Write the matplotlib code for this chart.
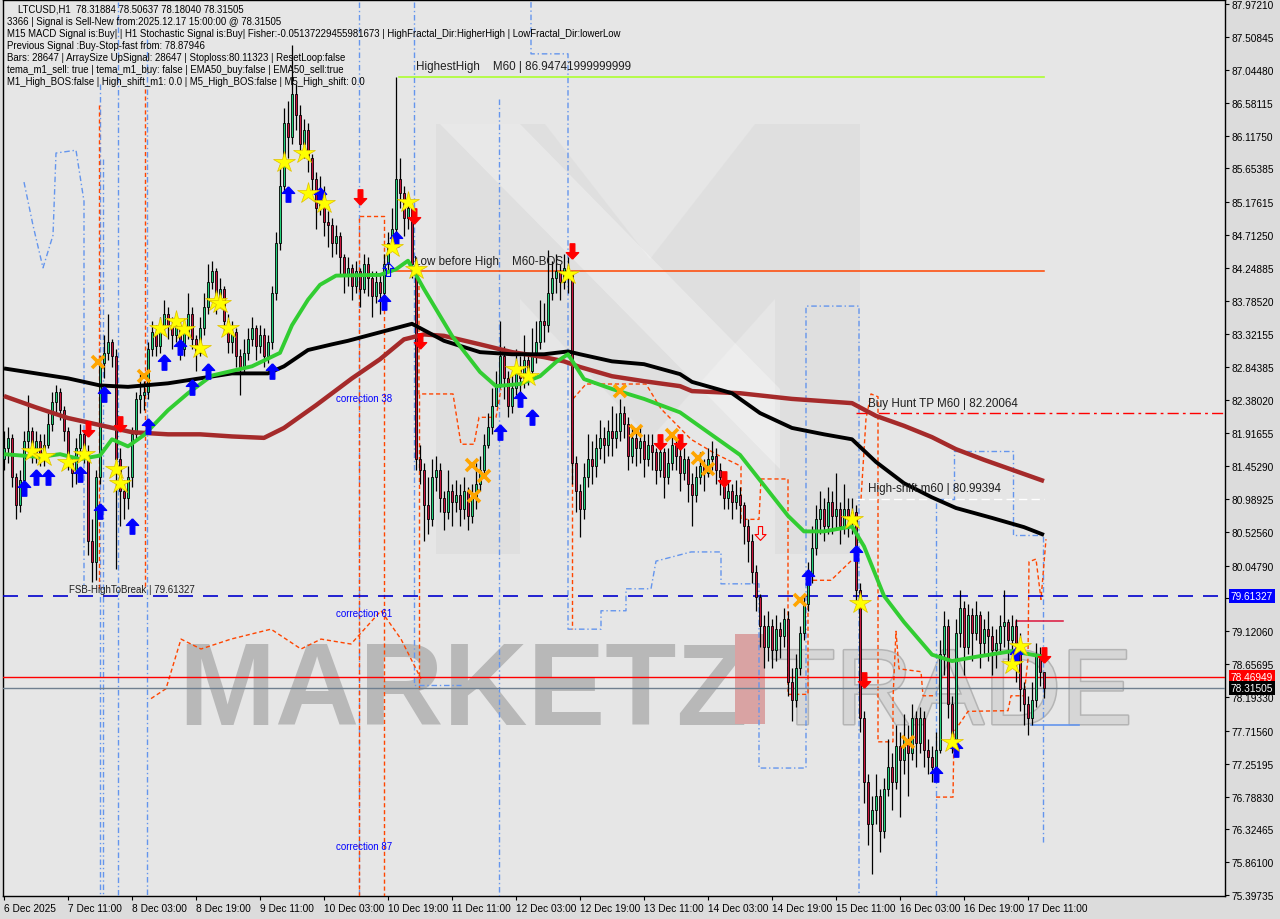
import numpy as np
import matplotlib.pyplot as plt
import matplotlib.transforms as mtransforms
import matplotlib.patheffects as pe
from matplotlib.patches import Rectangle, Polygon

plt.rcParams['font.family'] = ['Liberation Sans', 'DejaVu Sans']

# hourly bars, bar 0 = 6 Dec 2025 19:00
first_open = 81.55
close = [
    81.70, 81.85, 81.30, 80.90, 81.25, 81.80, 81.95, 81.65, 81.80, 81.60,
    81.75, 82.05, 82.35, 82.50, 82.25, 81.95, 81.50, 81.35, 81.70, 81.90,
    81.65, 80.40, 80.10, 81.30, 82.90, 83.05, 83.20, 83.00, 81.55, 81.10,
    81.00, 81.30, 81.90, 82.40, 82.45, 82.50, 83.10, 83.35, 83.15, 83.40,
    83.60, 83.45, 83.30, 83.45, 83.10, 83.35, 83.60, 83.25, 83.05, 83.40,
    83.70, 84.05, 84.20, 83.80, 83.95, 83.50, 83.20, 83.35, 83.00, 82.85,
    83.05, 83.25, 83.40, 83.15, 83.30, 83.00, 83.20, 83.90, 84.60, 85.40,
    86.30, 86.10, 86.70, 86.40, 86.00, 86.20, 85.80, 85.50, 85.10, 85.30,
    84.90, 84.85, 84.60, 84.70, 84.40, 84.15, 84.25, 84.00, 84.20, 83.95,
    84.30, 84.10, 83.85, 84.05, 83.90, 84.30, 84.60, 84.80, 85.50, 85.30,
    84.95, 85.10, 84.30, 81.55, 81.40, 80.90, 80.70, 81.30, 81.40, 81.00,
    80.80, 81.10, 80.95, 81.05, 80.85, 81.10, 80.75, 81.00, 81.20, 81.40,
    81.75, 82.00, 82.30, 82.60, 83.00, 82.70, 82.30, 82.55, 82.85, 82.70,
    82.95, 82.80, 83.05, 83.20, 83.50, 83.45, 83.90, 84.10, 84.20, 84.05,
    84.25, 84.15, 81.50, 81.10, 80.85, 81.30, 81.55, 81.45, 81.70, 81.85,
    81.75, 81.95, 81.85, 81.95, 82.20, 82.05, 81.60, 81.85, 81.70, 81.80,
    81.55, 81.75, 81.65, 81.40, 81.65, 81.30, 81.50, 81.75, 81.60, 81.35,
    81.55, 81.20, 81.05, 81.30, 81.45, 81.35, 81.55, 81.60, 81.40, 81.30,
    81.00, 81.10, 80.95, 81.05, 80.90, 80.60, 80.40, 79.95, 79.60, 79.20,
    78.90, 79.20, 78.85, 79.15, 79.05, 79.30, 78.40, 78.15, 78.60, 79.10,
    79.50, 79.90, 80.30, 80.70, 80.85, 80.60, 80.95, 80.75, 80.85, 80.60,
    80.85, 80.70, 80.80, 79.70, 77.90, 77.00, 76.40, 76.60, 76.80, 76.30,
    76.90, 77.20, 77.00, 77.50, 77.30, 77.60, 77.40, 77.90, 77.55, 77.90,
    77.45, 77.35, 77.20, 77.45, 78.80, 79.20, 78.10, 77.60, 79.10, 79.45,
    78.90, 79.35, 79.10, 79.35, 78.95, 79.15, 79.05, 78.85, 78.95, 79.20,
    79.25, 79.00, 79.20, 78.95, 78.30, 78.10, 77.90, 78.15, 78.80, 78.55,
    78.315,
]
high = [
    81.95, 82.00, 81.90, 81.35, 81.40, 81.95, 82.45, 82.00, 81.95, 81.90,
    81.90, 82.20, 82.50, 82.60, 82.55, 82.30, 82.00, 81.60, 81.85, 82.05,
    81.95, 81.75, 80.70, 81.40, 83.00, 83.30, 83.60, 83.25, 83.10, 81.70,
    81.25, 81.45, 82.00, 82.50, 82.75, 82.65, 83.20, 83.50, 83.45, 83.55,
    83.80, 83.70, 83.55, 83.60, 83.50, 83.50, 83.90, 83.70, 83.30, 83.55,
    83.90, 84.30, 84.35, 84.25, 84.10, 84.00, 83.60, 83.50, 83.40, 83.10,
    83.25, 83.40, 83.55, 83.45, 83.45, 83.40, 83.30, 84.00, 84.75, 85.70,
    86.50, 86.60, 87.40, 86.85, 86.55, 86.35, 86.30, 85.85, 85.60, 85.55,
    85.40, 85.05, 84.95, 84.85, 84.75, 84.45, 84.40, 84.30, 84.35, 84.25,
    84.45, 84.40, 84.20, 84.20, 84.15, 84.45, 84.75, 85.10, 86.95, 85.80,
    85.40, 85.25, 85.15, 84.40, 81.75, 81.50, 81.30, 81.55, 81.60, 81.50,
    81.10, 81.40, 81.20, 81.25, 81.20, 81.30, 81.15, 81.20, 81.50, 81.60,
    81.90, 82.20, 82.55, 82.80, 83.50, 83.15, 82.80, 82.80, 83.10, 83.00,
    83.30, 83.05, 83.40, 83.50, 83.80, 83.75, 84.50, 84.35, 84.45, 84.30,
    84.45, 84.40, 84.20, 81.60, 81.20, 81.50, 81.90, 81.80, 81.90, 82.10,
    82.00, 82.10, 82.30, 82.20, 82.40, 82.30, 82.15, 82.00, 81.95, 82.00,
    81.90, 81.90, 81.90, 81.70, 81.80, 81.70, 81.70, 81.90, 81.85, 81.70,
    81.70, 81.60, 81.35, 81.45, 81.65, 81.55, 81.70, 81.80, 81.70, 81.50,
    81.35, 81.25, 81.20, 81.25, 81.15, 80.95, 80.70, 80.50, 80.05, 79.65,
    79.35, 79.40, 79.30, 79.35, 79.25, 79.45, 79.40, 78.60, 78.80, 79.20,
    79.65, 80.10, 80.60, 80.90, 81.10, 81.00, 81.15, 81.10, 81.35, 80.95,
    81.20, 81.00, 81.00, 80.90, 79.80, 78.00, 77.10, 76.80, 77.10, 76.90,
    77.05, 77.60, 77.40, 77.80, 77.70, 77.95, 77.80, 78.10, 78.00, 78.05,
    78.00, 77.60, 77.50, 77.70, 79.00, 79.40, 79.30, 78.20, 79.30, 79.70,
    79.55, 79.50, 79.45, 79.55, 79.40, 79.30, 79.40, 79.20, 79.15, 79.35,
    79.70, 79.30, 79.35, 79.30, 79.10, 78.40, 78.20, 78.40, 78.95, 78.90,
    78.51,
]
low = [
    81.40, 81.50, 81.15, 80.70, 80.80, 81.15, 81.65, 81.50, 81.50, 81.45,
    81.45, 81.70, 81.95, 82.20, 82.10, 81.80, 81.40, 81.15, 81.20, 81.55,
    81.50, 80.20, 79.82, 79.85, 81.20, 82.70, 82.95, 82.85, 80.00, 80.60,
    80.70, 80.85, 81.15, 81.80, 82.20, 82.25, 82.40, 83.00, 83.00, 83.05,
    83.30, 83.25, 83.10, 83.20, 82.95, 83.00, 83.25, 83.10, 82.80, 83.00,
    83.30, 83.60, 83.95, 83.60, 83.70, 83.35, 83.05, 83.05, 82.85, 82.45,
    82.75, 82.95, 83.15, 82.95, 83.05, 82.85, 82.90, 83.10, 83.80, 84.50,
    85.30, 85.80, 86.00, 86.20, 85.80, 85.80, 85.60, 85.30, 84.80, 85.00,
    84.70, 84.55, 84.40, 84.45, 84.15, 83.90, 84.00, 83.80, 83.90, 83.70,
    83.90, 83.85, 83.55, 83.75, 83.60, 83.80, 84.20, 84.50, 84.70, 85.10,
    84.70, 84.80, 84.10, 81.40, 81.20, 80.40, 80.50, 80.60, 81.10, 80.80,
    80.55, 80.70, 80.60, 80.80, 80.60, 80.70, 80.55, 80.65, 80.85, 81.10,
    81.30, 81.70, 81.90, 82.30, 82.55, 82.40, 82.15, 82.20, 82.45, 82.50,
    82.55, 82.60, 82.70, 82.90, 83.10, 83.20, 83.35, 83.80, 83.90, 83.80,
    83.95, 83.90, 81.20, 80.80, 80.45, 80.70, 81.15, 81.20, 81.30, 81.55,
    81.50, 81.60, 81.60, 81.70, 81.80, 81.85, 81.40, 81.50, 81.45, 81.50,
    81.30, 81.45, 81.40, 81.20, 81.30, 81.00, 81.20, 81.40, 81.40, 81.10,
    81.25, 80.95, 80.60, 80.95, 81.20, 81.10, 81.30, 81.40, 81.20, 81.05,
    80.85, 80.85, 80.70, 80.85, 80.65, 80.35, 80.10, 79.80, 79.40, 78.90,
    78.60, 78.70, 78.60, 78.70, 78.75, 78.90, 78.20, 77.85, 78.05, 78.50,
    79.00, 79.40, 79.80, 80.20, 80.50, 80.40, 80.50, 80.50, 80.55, 80.35,
    80.50, 80.45, 80.50, 79.50, 77.70, 76.70, 76.10, 75.70, 76.40, 76.00,
    76.20, 76.80, 76.60, 76.90, 76.50, 77.10, 76.80, 77.30, 77.20, 77.40,
    77.20, 77.10, 77.00, 77.10, 77.40, 78.50, 77.90, 77.40, 77.50, 78.90,
    78.50, 78.80, 78.70, 79.00, 78.60, 78.80, 78.70, 78.50, 78.60, 78.80,
    78.90, 78.70, 78.85, 78.40, 78.00, 77.80, 77.65, 77.80, 78.05, 78.35,
    78.18,
]

# moving averages at sample bars
green_bar = [0, 9, 14, 19, 24, 27, 31, 35, 41, 46, 52, 62, 69, 72, 76, 79, 83, 94, 98, 101,
             105, 112, 119, 123, 129, 134, 138, 141, 145, 152, 160, 169, 177, 184, 190, 196,
             200, 205, 212, 215, 220, 225, 232, 237, 243, 252, 260]
green_val = [81.62, 81.58, 81.62, 81.55, 81.60, 81.83, 81.73, 81.89, 82.24, 82.48, 82.73,
             82.86, 83.05, 83.44, 83.80, 84.01, 84.14, 84.15, 84.23, 84.35, 83.95, 83.29,
             82.78, 82.58, 82.61, 82.72, 82.92, 83.03, 82.68, 82.54, 82.40, 82.21, 81.89,
             81.61, 81.18, 80.75, 80.53, 80.53, 80.60, 80.32, 79.62, 79.25, 78.79, 78.70,
             78.76, 78.84, 78.76]
black_bar = [0, 8, 16, 24, 31, 41, 49, 57, 66, 70, 76, 82, 86, 94, 102, 110, 119, 127, 135,
             141, 144, 152, 160, 169, 172, 182, 189, 197, 205, 212, 218, 225, 232, 238, 247,
             255, 260]
black_val = [82.83, 82.76, 82.69, 82.59, 82.57, 82.62, 82.69, 82.76, 82.76, 82.86, 83.09,
             83.17, 83.22, 83.34, 83.46, 83.22, 83.06, 83.03, 83.03, 83.07, 83.03, 82.93,
             82.89, 82.75, 82.64, 82.48, 82.20, 81.99, 81.90, 81.83, 81.51, 81.21, 81.01,
             80.86, 80.72, 80.59, 80.48]
brown_bar = [0, 8, 16, 24, 32, 41, 49, 57, 65, 70, 78, 87, 94, 100, 105, 110, 119, 127, 135,
             140, 144, 152, 160, 169, 172, 184, 197, 212, 218, 225, 232, 238, 245, 252, 260]
brown_val = [82.44, 82.28, 82.13, 82.03, 81.93, 81.90, 81.90, 81.87, 81.85, 81.99, 82.31,
             82.69, 82.96, 83.24, 83.31, 83.29, 83.17, 83.06, 82.99, 82.93, 82.85, 82.72,
             82.65, 82.58, 82.51, 82.48, 82.40, 82.34, 82.16, 82.02, 81.86, 81.69, 81.54,
             81.40, 81.24]

# signal markers (bar, price)
star_bar = [7, 10, 16, 20, 28, 29, 39, 43, 45, 49, 53, 54, 56, 70, 75, 76, 80, 97, 101, 103,
            128, 131, 141, 212, 214, 237, 252, 254]
star_price = [81.66, 81.59, 81.51, 81.62, 81.41, 81.21, 83.40, 83.50, 83.39, 83.12, 83.78,
              83.75, 83.40, 85.74, 85.87, 85.31, 85.16, 84.54, 85.18, 84.23, 82.82, 82.72,
              84.16, 80.70, 79.52, 77.56, 78.66, 78.91]
cross_bar = [23.5, 35, 117, 120, 117.5, 154, 158, 167, 173.5, 176, 199, 226]
cross_price = [82.92, 82.72, 81.47, 81.31, 81.03, 82.51, 81.95, 81.89, 81.57, 81.41, 79.56, 77.56]
up_bar = [5, 8, 11, 19, 25, 24, 32, 36, 40, 44, 47, 51, 67, 71, 79, 95, 98, 124, 129, 132,
          201, 213, 233, 238, 253]
up_price = [81.14, 81.30, 81.30, 81.34, 82.47, 80.82, 80.60, 82.02, 82.92, 83.13, 82.57,
            82.79, 82.79, 85.29, 85.28, 83.77, 84.66, 81.93, 82.40, 82.14, 79.88, 80.22,
            77.11, 77.46, 78.79]
down_bar = [21, 29, 89, 102.5, 104, 142, 164, 169, 180, 215, 260]
down_price = [81.97, 82.04, 85.25, 84.98, 83.22, 84.49, 81.79, 81.79, 81.27, 78.43, 78.79]

# levels
highest_high = 86.94742
low_before_high = 84.21
buy_hunt_tp = 82.20064
high_shift = 80.99394
fsb_high = 79.61327
sell_level = 78.46949
bid_price = 78.31505

# dashed channel / fibo outlines (bars, prices)
blue_paths = [
    ([5, 7.25, 9.75, 12.25, 13, 18, 20, 20], [85.46, 84.85, 84.25, 84.71, 85.87, 85.91, 85.19, 79.72]),
    ([24, 24], [86.84, 75.38]),
    ([24.75, 24.75], [85.78, 75.38]),
    ([28.5, 28.5], [88.0, 75.38]),
    ([35.75, 35.75], [87.48, 75.38]),
    ([88.75, 88.75], [88.0, 75.38]),
    ([102.5, 102.5, 114.25], [88.0, 78.36, 78.36]),
    ([123.75, 123.75], [86.63, 75.38]),
    ([131.75, 131.75, 141, 141, 142.25, 149.25, 149.25, 155.5, 155.5, 161.75, 163, 171.75,
      179.25, 179.25, 188.75, 188.75, 200.5, 200.5, 213.75, 213.75],
     [88.0, 87.27, 87.27, 79.15, 79.15, 79.15, 79.41, 79.41, 79.72, 79.72, 80.11, 80.24,
      80.24, 79.79, 79.79, 77.19, 77.19, 83.71, 83.71, 75.38]),
    ([233, 233, 237.5, 237.5, 252.25, 252.25, 259.75, 259.75],
     [75.38, 80.99, 80.99, 81.66, 81.66, 80.48, 80.48, 76.12]),
]
orange_paths = [
    ([23.75, 23.75], [86.55, 79.72]),
    ([35.25, 35.25], [86.77, 79.72]),
    ([88.75, 88.75, 95, 95], [75.38, 84.98, 84.98, 75.38]),
    ([103.75, 103.75, 112.25, 114.25, 117.5, 118.75, 123, 124.25],
     [84.19, 82.47, 82.47, 81.76, 81.76, 82.14, 82.14, 82.54]),
    ([103.75, 103.75], [82.47, 78.31]),
    ([142, 142], [82.5, 79.15]),
    ([142.25, 145.5, 160.5, 164.25, 171.75, 178, 184.25, 184.25, 188.75, 189.25, 196, 196,
      201, 201, 206.75, 212.25],
     [82.40, 82.61, 82.61, 82.26, 81.83, 81.62, 81.45, 80.70, 80.70, 81.27, 81.27, 78.23,
      78.23, 79.84, 79.84, 80.14]),
    ([36.75, 40.5, 44.25, 49.25, 56.75, 66.75, 74.25, 79.25, 86.75, 94.25, 99.25, 104.25],
     [78.17, 78.31, 79.01, 78.87, 79.01, 79.15, 78.87, 79.01, 78.94, 79.41, 79.01, 78.45]),
    ([233, 237.25, 237.5, 241, 251, 251.75, 255, 256, 256.25, 258, 259.25, 260.5],
     [76.78, 76.78, 77.70, 77.99, 78.00, 78.21, 78.21, 78.73, 80.10, 80.14, 79.57, 80.42]),
    ([214.25, 215.5, 216.75, 218.5, 218.5, 222.25, 222.25, 223, 223.75, 229.25, 229.75, 232.5],
     [80.99, 82.12, 82.47, 82.43, 77.56, 77.56, 78.17, 79.12, 78.59, 78.55, 78.21, 78.21]),
]

tick_bars = list(range(0, 257, 16))
tick_labels = ["6 Dec 2025", "7 Dec 11:00", "8 Dec 03:00", "8 Dec 19:00", "9 Dec 11:00",
               "10 Dec 03:00", "10 Dec 19:00", "11 Dec 11:00", "12 Dec 03:00", "12 Dec 19:00",
               "13 Dec 11:00", "14 Dec 03:00", "14 Dec 19:00", "15 Dec 11:00", "16 Dec 03:00",
               "16 Dec 19:00", "17 Dec 11:00"]
price_ticks = [87.97210, 87.50845, 87.04480, 86.58115, 86.11750, 85.65385, 85.17615, 84.71250,
               84.24885, 83.78520, 83.32155, 82.84385, 82.38020, 81.91655, 81.45290, 80.98925,
               80.52560, 80.04790, 79.58425, 79.12060, 78.65695, 78.19330, 77.71560, 77.25195,
               76.78830, 76.32465, 75.86100, 75.39735]
hidden_tick = 79.58425  # covered by the FSB price box

header = [
    "LTCUSD,H1  78.31884 78.50637 78.18040 78.31505",
    "3366 | Signal is Sell-New from:2025.12.17 15:00:00 @ 78.31505",
    "M15 MACD Signal is:Buy| | H1 Stochastic Signal is:Buy| Fisher:-0.05137229455981673 | "
    "HighFractal_Dir:HigherHigh | LowFractal_Dir:lowerLow",
    "Previous Signal :Buy-Stop-fast from: 78.87946",
    "Bars: 28647 | ArraySize UpSignal: 28647 | Stoploss:80.11323 | ResetLoop:false",
    "tema_m1_sell: true | tema_m1_buy: false | EMA50_buy:false | EMA50_sell:true",
    "M1_High_BOS:false | High_shift_m1: 0.0 | M5_High_BOS:false | M5_High_shift: 0.0",
]

W, H = 1280, 920
AX_L, AX_R, AX_T, AX_B = 3, 1225, 1, 897


def px(x, y):
    # pixel position -> axes fraction, only for the decorative watermark
    return ((x - AX_L) / (AX_R - AX_L), (AX_B - y) / (AX_B - AX_T))


def draw_watermark(ax):
    tr = ax.transAxes
    m_shape = [(436, 555), (436, 125), (545, 125), (650, 260), (755, 125), (860, 125),
               (860, 555), (775, 555), (775, 300), (650, 440), (520, 300), (520, 555)]
    ax.add_patch(Polygon([px(*p) for p in m_shape], closed=True, transform=tr,
                         fc='#d2d2d2', ec='none', alpha=0.3, zorder=0.5))
    stripe = [(440, 125), (520, 125), (780, 390), (780, 470)]
    ax.add_patch(Polygon([px(*p) for p in stripe], closed=True, transform=tr,
                         fc='white', ec='none', alpha=0.3, zorder=0.6))
    x0, y0 = px(178, 725)
    ax.text(x0, y0, "MARKETZ", transform=tr, fontsize=84, fontweight='bold',
            color='#b8b8b8', ha='left', va='baseline', zorder=1)
    rx, ry = px(735, 725)
    ax.add_patch(Rectangle((rx, ry), 30 / (AX_R - AX_L), 90 / (AX_B - AX_T), transform=tr,
                           fc='#d9a3a3', ec='none', zorder=1))
    tx, ty = px(770, 725)
    ax.text(tx, ty, "TRADE", transform=tr, fontsize=77, color='#d6d6d6', ha='left',
            va='baseline', zorder=1,
            path_effects=[pe.withStroke(linewidth=2.2, foreground='#b4b4b4')])


def main():
    fig = plt.figure(figsize=(W / 100, H / 100), dpi=100, facecolor='#dcdcdc')
    ax = fig.add_axes([AX_L / W, 1 - AX_B / H, (AX_R - AX_L) / W, (AX_B - AX_T) / H])
    ax.set_facecolor('#e6e6e6')
    ax.set_xlim(-0.25, 305.25)
    ax.set_ylim(75.384, 88.03)
    for s in ax.spines.values():
        s.set_color('black')
        s.set_linewidth(1)

    draw_watermark(ax)

    # candles
    c = np.array(close)
    o = np.concatenate([[first_open], c[:-1]])
    h = np.maximum(np.array(high), np.maximum(o, c))
    l = np.minimum(np.array(low), np.minimum(o, c))
    x = np.arange(len(c))
    bull = c >= o
    lo_body = np.minimum(o, c)
    body = np.maximum(np.abs(c - o), 0.02)
    ax.vlines(x, l, h, color='black', lw=0.9, zorder=4)
    ax.bar(x[bull], body[bull], bottom=lo_body[bull], width=0.62, color='#22d07a',
           edgecolor='black', lw=0.6, zorder=5)
    ax.bar(x[~bull], body[~bull], bottom=lo_body[~bull], width=0.62, color='#c8143c',
           edgecolor='black', lw=0.6, zorder=5)

    # dashed outlines
    for bx, by in blue_paths:
        ax.plot(bx, by, color='#6495ed', lw=1, ls=(0, (4, 2, 1, 2)), zorder=3)
    for bx, by in orange_paths:
        ax.plot(bx, by, color='#ff4500', lw=1, ls=(0, (3, 2)), zorder=3)

    # moving averages
    ax.plot(brown_bar, brown_val, color='#a52a2a', lw=3.2, zorder=6, solid_capstyle='butt')
    ax.plot(black_bar, black_val, color='black', lw=2.8, zorder=6, solid_capstyle='butt')
    ax.plot(green_bar, green_val, color='#32cd32', lw=2.8, zorder=6, solid_capstyle='butt')

    # levels
    ax.plot([98.75, 260], [highest_high] * 2, color='#adff2f', lw=1.2, zorder=3)
    ax.text(103, highest_high + 0.06, "HighestHigh    M60 | 86.94741999999999", fontsize=8.4,
            color='#202020', va='bottom', ha='left', zorder=7)
    ax.plot([97.25, 260], [low_before_high] * 2, color='#ff4500', lw=1.1, zorder=3)
    ax.text(102.5, low_before_high + 0.05, "Low before High    M60-BOS", fontsize=8.4,
            color='#202020', va='bottom', ha='left', zorder=7)
    ax.plot([213, 305.25], [buy_hunt_tp] * 2, color='#ff0000', lw=1, ls=(0, (8, 3, 2, 3)),
            zorder=3)
    ax.text(216, buy_hunt_tp + 0.06, "Buy Hunt TP M60 | 82.20064", fontsize=8.4,
            color='#202020', va='bottom', ha='left', zorder=7)
    ax.plot([213, 260], [high_shift] * 2, color='white', lw=1, ls=(0, (6, 3)), zorder=3)
    ax.text(216, high_shift + 0.06, "High-shift m60 | 80.99394", fontsize=8.4,
            color='#202020', va='bottom', ha='left', zorder=7)
    ax.axhline(fsb_high, color='#0000cd', lw=1.2, ls=(0, (9, 6)), zorder=3)
    ax.text(16.25, fsb_high + 0.03, "FSB-HighToBreak | 79.61327", fontsize=7, color='#202020',
            va='bottom', ha='left', zorder=7)
    ax.axhline(sell_level, color='#ff0000', lw=1, zorder=3)
    ax.axhline(bid_price, color='#708090', lw=1, zorder=3)
    ax.plot([253, 253, 264.75], [78.90, 79.27, 79.27], color='#dc143c', lw=1.1, zorder=3)
    ax.plot([256.75, 268.75], [77.80, 77.80], color='#6495ed', lw=1.2, zorder=3)

    for lbl, yv in [("correction 38", 82.41), ("correction 61", 79.38), ("correction 87", 76.09)]:
        ax.text(83, yv, lbl, fontsize=7, color='#0000ff', va='center', ha='left', zorder=7)

    # markers
    up_arrow = [(0, 1), (0.8, 0.15), (0.3, 0.15), (0.3, -1), (-0.3, -1), (-0.3, 0.15),
                (-0.8, 0.15), (0, 1)]
    down_arrow = [(vx, -vy) for vx, vy in up_arrow]
    ax.plot(up_bar, up_price, ls='none', marker=up_arrow, ms=11, color='#0000ff',
            mec='#0000ff', zorder=8)
    ax.plot(down_bar, down_price, ls='none', marker=down_arrow, ms=11, color='#ff0000',
            mec='#ff0000', zorder=8)
    ax.plot([96], [84.23], ls='none', marker=up_arrow, ms=10, mfc='none', mec='#0000ff',
            mew=0.8, zorder=8)
    ax.plot([189], [80.51], ls='none', marker=down_arrow, ms=10, mfc='none', mec='#ff0000',
            mew=0.8, zorder=8)
    ax.plot(star_bar, star_price, ls='none', marker='*', ms=16, color='#ffff00',
            mec='#e0c000', mew=0.5, zorder=9)
    ax.plot(cross_bar, cross_price, ls='none', marker='x', ms=8, mew=2.6, color='#ffa500',
            zorder=9)

    # axes ticks
    ax.yaxis.tick_right()
    ax.set_yticks(price_ticks)
    ax.set_yticklabels(["" if v == hidden_tick else f"{v:.5f}" for v in price_ticks])
    ax.set_xticks(tick_bars)
    ax.set_xticklabels(tick_labels)
    for t in ax.get_xticklabels():
        t.set_ha('left')
    ax.tick_params(axis='y', direction='out', length=3, pad=2, labelsize=7.3, colors='black')
    ax.tick_params(axis='x', direction='out', length=3, pad=2, labelsize=7.3, colors='black')

    # price boxes on the right scale
    trans = mtransforms.blended_transform_factory(ax.transAxes, ax.transData)
    for val, fc in [(fsb_high, '#0000ff'), (sell_level, '#ff0000'), (bid_price, '#000000')]:
        ax.text(1.0 + 6 / (AX_R - AX_L), val, f"{val:.5f}", transform=trans, fontsize=7.3,
                color='white', ha='left', va='center', clip_on=False, zorder=10,
                bbox=dict(boxstyle='square,pad=0.2', fc=fc, ec='none'))

    # header text
    for i, line in enumerate(header):
        xx = 18 if i == 0 else 7
        fig.text(xx / W, 1 - (10 + 12 * i) / H, line, fontsize=6.9, color='black',
                 ha='left', va='center')

    fig.savefig('out.png', dpi=100, facecolor=fig.get_facecolor())


if __name__ == "__main__":
    main()
